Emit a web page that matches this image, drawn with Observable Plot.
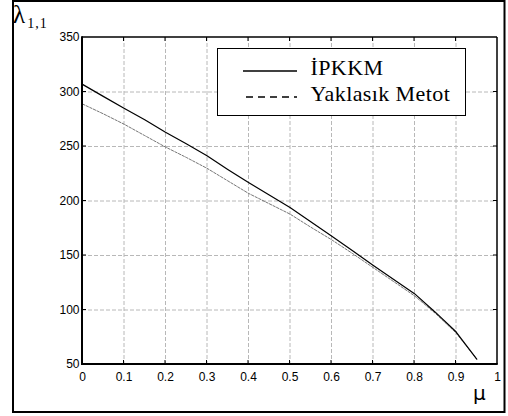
<!DOCTYPE html>
<html>
<head>
<meta charset="utf-8">
<script src="https://cdn.jsdelivr.net/npm/d3@7"></script>
<script src="https://cdn.jsdelivr.net/npm/@observablehq/plot@0.6"></script>
<style>
  html, body { margin: 0; padding: 0; background: #fff; }
</style>
</head>
<body>
<div id="chart"></div>
<script>
// μ values (horizontal) and the two λ(1,1) series
const mu = [0, 0.05, 0.1, 0.15, 0.2, 0.25, 0.3, 0.35, 0.4, 0.45, 0.5, 0.55, 0.6, 0.65, 0.7, 0.75, 0.8, 0.85, 0.9, 0.95];
const ipkkm = [307, 296, 285, 274.5, 263, 252.5, 241.5, 229, 217, 205.5, 194, 181, 168, 154.5, 141, 128, 115, 98, 80, 55];
const yaklasik = [289, 280, 270.5, 260, 249.5, 240, 230, 218.5, 207, 197.5, 188, 176, 164.5, 152, 139, 126, 113, 97, 79, 55];

const seriesNames = ["İPKKM", "Yaklasık Metot"];
const xTicks = [0, 0.1, 0.2, 0.3, 0.4, 0.5, 0.6, 0.7, 0.8, 0.9, 1];
const yTicks = [50, 100, 150, 200, 250, 300, 350];

const solidData = mu.map((m, i) => ({mu: m, lambda: ipkkm[i]}));
const dashData = mu.map((m, i) => ({mu: m, lambda: yaklasik[i]}));

const gridStyle = {stroke: "#b8b8b8", strokeOpacity: 1, strokeWidth: 1, strokeDasharray: "4,2"};

const svg = Plot.plot({
  width: 508,
  height: 416,
  marginLeft: 82,
  marginRight: 11,
  marginTop: 37,
  marginBottom: 52,
  style: {fontFamily: "'Liberation Sans', Arial, sans-serif", fontSize: "12px", background: "#fff", color: "#000"},
  x: {domain: [0, 1]},
  y: {domain: [50, 350]},
  marks: [
    Plot.gridX(xTicks.slice(1, -1), gridStyle),
    Plot.gridY(yTicks.slice(1, -1), gridStyle),
    Plot.line(dashData, {x: "mu", y: "lambda", stroke: "#666", strokeWidth: 0.9, strokeDasharray: "2.5,1.5"}),
    Plot.line(solidData, {x: "mu", y: "lambda", stroke: "#000", strokeWidth: 1.2}),
    Plot.axisX(xTicks, {tickSize: 0, tickPadding: 8, label: null,
      tickFormat: d => (d === 0 || d === 1) ? String(d) : d.toFixed(1)}),
    Plot.axisY(yTicks, {tickSize: 0, tickPadding: 3, label: null})
  ]
});

const x = svg.scale("x");
const y = svg.scale("y");
const X = v => x.apply(v);
const Y = v => y.apply(v);
const root = d3.select(svg);
const serif = "'Liberation Serif', 'Times New Roman', serif";

// axes box with inward tick marks on all four sides
const box = root.append("g").attr("fill", "none").attr("stroke", "#000");
const tk = 4;
xTicks.slice(1, -1).forEach(v => {
  box.append("line").attr("x1", X(v)).attr("x2", X(v)).attr("y1", Y(50)).attr("y2", Y(50) - tk).attr("stroke-width", 1);
  box.append("line").attr("x1", X(v)).attr("x2", X(v)).attr("y1", Y(350)).attr("y2", Y(350) + tk).attr("stroke-width", 1);
});
yTicks.slice(1, -1).forEach(v => {
  box.append("line").attr("x1", X(0)).attr("x2", X(0) + tk).attr("y1", Y(v)).attr("y2", Y(v)).attr("stroke-width", 1);
  box.append("line").attr("x1", X(1)).attr("x2", X(1) - tk).attr("y1", Y(v)).attr("y2", Y(v)).attr("stroke-width", 1);
});
box.append("line").attr("x1", X(0)).attr("x2", X(1)).attr("y1", Y(350)).attr("y2", Y(350)).attr("stroke-width", 1.3);
box.append("line").attr("x1", X(1)).attr("x2", X(1)).attr("y1", Y(350)).attr("y2", Y(50)).attr("stroke-width", 1.5);
box.append("line").attr("x1", X(0)).attr("x2", X(1) + 0.75).attr("y1", Y(50)).attr("y2", Y(50)).attr("stroke-width", 2);
box.append("line").attr("x1", X(0)).attr("x2", X(0)).attr("y1", Y(350) - 0.65).attr("y2", Y(50) + 1).attr("stroke-width", 2);

// legend
const lg = root.append("g");
lg.append("rect").attr("x", 217.5).attr("y", 48.5).attr("width", 248).attr("height", 67)
  .attr("fill", "#fff").attr("stroke", "#000").attr("stroke-width", 1);
lg.append("line").attr("x1", 243).attr("x2", 297).attr("y1", 71).attr("y2", 71)
  .attr("stroke", "#000").attr("stroke-width", 1.5);
lg.append("line").attr("x1", 246).attr("x2", 297).attr("y1", 97).attr("y2", 97)
  .attr("stroke", "#000").attr("stroke-width", 1.5).attr("stroke-dasharray", "7,5");
[[seriesNames[0], 75], [seriesNames[1], 100.5]].forEach(([t, by]) => {
  lg.append("text").attr("x", 310.5).attr("y", by).text(t)
    .style("font-family", serif).style("font-size", "22px").style("letter-spacing", "0.4px")
    .style("text-anchor", "start").style("fill", "#000");
});

// axis titles
const lam = root.append("text").attr("x", 13).attr("y", 23)
  .style("font-family", serif).style("text-anchor", "start").style("fill", "#000");
lam.append("tspan").style("font-size", "25px").text("λ");
lam.append("tspan").style("font-size", "14px").style("letter-spacing", "1px").attr("dx", 2).attr("dy", 5).text("1,1");
root.append("text").attr("x", 473).attr("y", 400).text("μ")
  .style("font-family", "'DejaVu Sans', sans-serif").style("font-size", "20px")
  .style("text-anchor", "start").style("fill", "#000");

// outer frame
root.append("rect").attr("x", 13).attr("y", 1).attr("width", 491.5).attr("height", 411)
  .attr("fill", "none").attr("stroke", "#000").attr("stroke-width", 2);

document.getElementById("chart").appendChild(svg);
</script>
</body>
</html>
